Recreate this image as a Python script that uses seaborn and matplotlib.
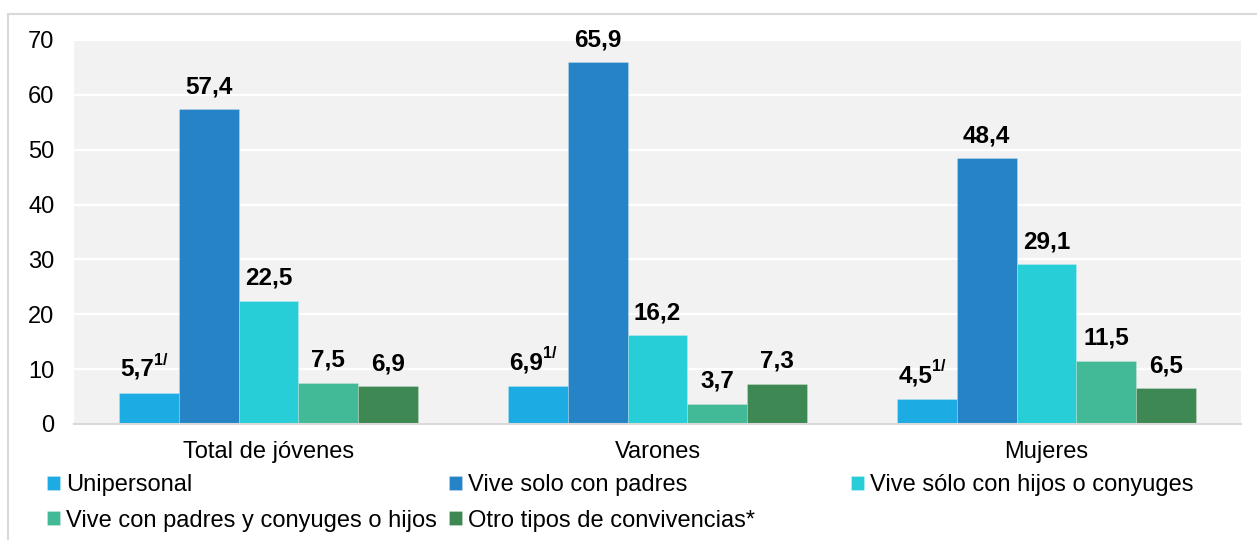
import matplotlib
matplotlib.use("Agg")
import matplotlib.pyplot as plt
from matplotlib.patches import Rectangle
import pandas as pd
import seaborn as sns

groups = ["Total de jóvenes", "Varones", "Mujeres"]
series = ["Unipersonal", "Vive solo con padres", "Vive sólo con hijos o conyuges",
          "Vive con padres y conyuges o hijos", "Otro tipos de convivencias*"]
unipersonal = [5.7, 6.9, 4.5]
solo_padres = [57.4, 65.9, 48.4]
hijos_conyuges = [22.5, 16.2, 29.1]
padres_conyuges = [7.5, 3.7, 11.5]
otros = [6.9, 7.3, 6.5]
notes = ["1/", "", "", "", ""]  # footnote marker per series
colors = ["#1CABE2", "#2683C6", "#27CED7", "#42BA97", "#3E8853"]

values = [unipersonal, solo_padres, hijos_conyuges, padres_conyuges, otros]
df = pd.DataFrame([
    {"grupo": g, "tipo": s, "pct": v}
    for s, vals in zip(series, values)
    for g, v in zip(groups, vals)
])

sns.set_theme(style="white")
plt.rcParams["font.family"] = ["Liberation Sans", "DejaVu Sans"]
plt.rcParams["text.color"] = "black"

fig = plt.figure(figsize=(12.57, 5.4), dpi=100)
ax = fig.add_axes([74 / 1257, 116 / 540, (1241 - 74) / 1257, (424 - 40) / 540])
ax.set_facecolor("#F2F2F2")

sns.barplot(data=df, x="grupo", y="pct", hue="tipo", order=groups,
            hue_order=series, palette=colors, saturation=1, width=0.77,
            ax=ax, legend=True, edgecolor="#FFFFFF40", linewidth=0.6)

ax.set_ylim(0, 70)
ax.set_yticks(range(0, 71, 10))
ax.yaxis.grid(True, color="white", linewidth=1.6)
ax.set_axisbelow(True)
ax.set_xlabel("")
ax.set_ylabel("")
for side in ["top", "right", "left"]:
    ax.spines[side].set_visible(False)
ax.spines["bottom"].set_color("#D9D9D9")
ax.spines["bottom"].set_linewidth(1.5)
ax.tick_params(axis="y", length=0, pad=14, labelsize=17, labelcolor="black")
ax.tick_params(axis="x", length=0, pad=12.5, labelsize=17, labelcolor="black")

# data labels with comma decimals
for cont, note in zip(ax.containers, notes):
    for bar in cont:
        h = bar.get_height()
        xc = bar.get_x() + bar.get_width() / 2
        txt = f"{h:.1f}".replace(".", ",")
        if note:
            ax.annotate(txt, (xc, h), xytext=(4, 8.5), textcoords="offset points",
                        ha="right", va="bottom", fontsize=17.5, fontweight="bold")
            ax.annotate(note, (xc, h), xytext=(3.5, 18), textcoords="offset points",
                        ha="left", va="bottom", fontsize=11.5, fontweight="bold")
        else:
            ax.annotate(txt, (xc, h), xytext=(0, 8), textcoords="offset points",
                        ha="center", va="bottom", fontsize=17.5, fontweight="bold")

handles, labels = ax.get_legend_handles_labels()
ax.get_legend().remove()

# legend laid out row by row in three columns
columns = [[0, 3], [1, 4], [2]]
col_x = [47, 449, 851]
for idx, x in zip(columns, col_x):
    fig.legend([handles[i] for i in idx], [labels[i] for i in idx],
               loc="upper left", bbox_to_anchor=(x / 1257, 1 - 474 / 540),
               frameon=False, fontsize=17, handlelength=0.55, handleheight=0.55,
               handletextpad=0.25, labelspacing=0.58, borderaxespad=0,
               borderpad=0)

fig.patches.append(Rectangle((8 / 1257, -0.1), 1.2, 1.1 - 14 / 540,
                             transform=fig.transFigure, fill=False,
                             edgecolor="#D9D9D9", linewidth=1.5))

fig.savefig("out.png", dpi=100)
